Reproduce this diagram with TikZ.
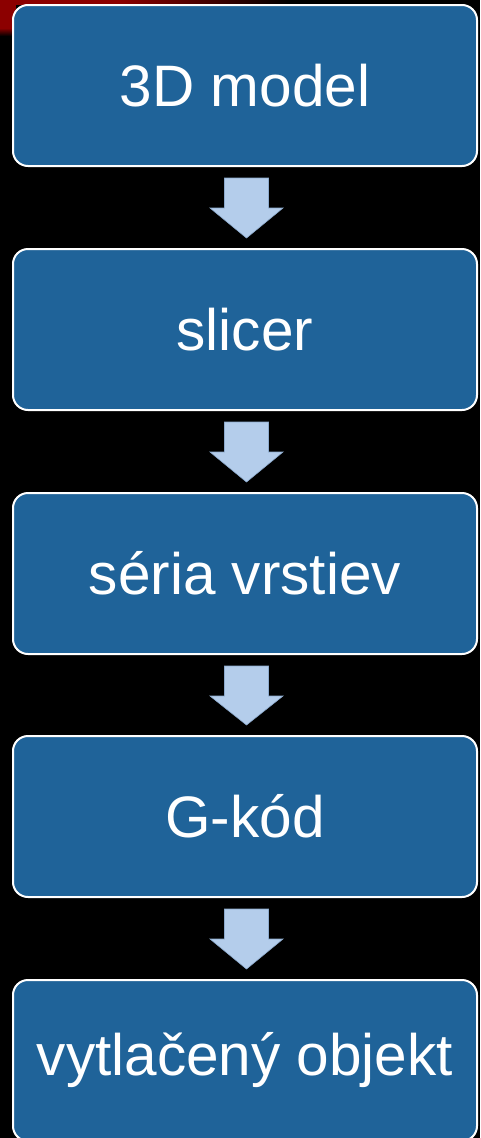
\documentclass[tikz,border=0pt]{standalone}
\usepackage{fontspec}
\setmainfont{Liberation Sans}
\usetikzlibrary{calc}
\definecolor{boxblue}{RGB}{31,99,153}
\definecolor{arrowblue}{RGB}{180,205,235}
\definecolor{arrowedge}{RGB}{140,170,205}
\definecolor{topred}{RGB}{140,0,0}
\begin{document}
\begin{tikzpicture}[x=1pt,y=-1pt,
  stepbox/.style={draw=white, line width=2pt, fill=boxblue, rounded corners=15pt,
    minimum width=464pt, minimum height=161pt, inner sep=0pt, text=white,
    font=\fontsize{58.5}{70}\selectfont},
  blockarrow/.style={fill=arrowblue, draw=arrowedge, line width=0.6pt}]
\useasboundingbox (0,0) rectangle (480,1138);
\fill[black] (0,0) rectangle (480,1138);
% red top-left backdrop
\fill[topred] (0,0) rectangle (120,5);
\shade[left color=topred, right color=black] (120,0) rectangle (290,5);
\fill[topred] (0,0) rectangle (16,28);
\shade[top color=topred, bottom color=black] (0,28) rectangle (16,36);
% boxes
\node[stepbox] (b1) at (245,85.5) {3D model};
\node[stepbox] (b2) at (245,329.5) {slicer};
\node[stepbox] (b3) at (245,573.5) {séria vrstiev};
\node[stepbox] (b4) at (245,816.5) {G-kód};
\node[stepbox] (b5) at (245,1060.5) {vytlačený objekt};
% block arrows
\foreach \a/\b in {b1/b2,b2/b3,b3/b4,b4/b5}{
  \draw[blockarrow] ($(\a.south)+(-20.5,11)$) -- ($(\a.south)+(23.5,11)$)
    -- ($(\a.south)+(23.5,41)$) -- ($(\a.south)+(38,41)$)
    -- ($(\b.north)+(1.5,-10)$)
    -- ($(\a.south)+(-35,41)$) -- ($(\a.south)+(-20.5,41)$) -- cycle;
}
\end{tikzpicture}
\end{document}
